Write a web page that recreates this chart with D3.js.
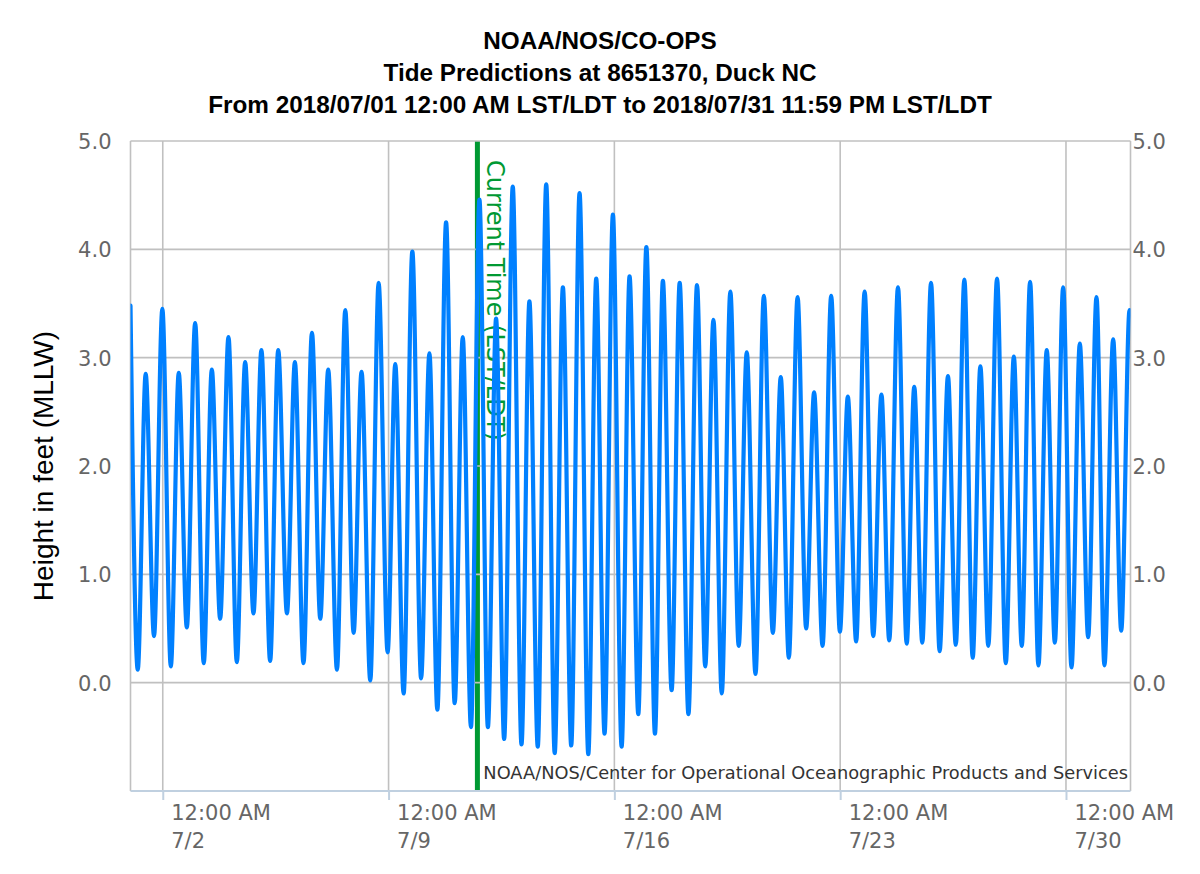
<!DOCTYPE html>
<html>
<head>
<meta charset="utf-8">
<script src="https://cdn.jsdelivr.net/npm/d3@7"></script>
<style>
  html, body { margin: 0; padding: 0; background: #fff; }
  svg { display: block; }
</style>
</head>
<body>
<svg id="chart" width="1200" height="874"></svg>
<script>
// ---- Data ----
const titleLines = [
  "NOAA/NOS/CO-OPS",
  "Tide Predictions at 8651370, Duck NC",
  "From 2018/07/01 12:00 AM LST/LDT to 2018/07/31 11:59 PM LST/LDT"
];
const yAxisTitle = "Height in feet (MLLW)";
const creditText = "NOAA/NOS/Center for Operational Oceanographic Products and Services";
const currentTimeLabel = "Current Time (LST/LDT)";
const currentTime = "2018-07-11T18:06:00Z";
const periodStart = "2018-07-01T00:00:00Z";
const periodEnd = "2018-08-01T00:00:00Z";

// x tick positions (midnight, weekly) and y ticks
const xTickDates = ["2018-07-02", "2018-07-09", "2018-07-16", "2018-07-23", "2018-07-30"];
const yTickValues = [0, 1, 2, 3, 4, 5];

// Hours since 2018/07/01 00:00 of the successive high / low waters
const hoursSinceStart = [
  0, 5.4, 11.3, 17.5, 23.7, 30.0, 35.9, 41.9, 48.1, 54.5, 60.5, 66.7, 72.9, 79.1, 85.3, 91.5,
  97.4, 103.9, 109.9, 116.4, 122.3, 128.7, 135.0, 141.2, 147.1, 153.6, 159.8, 166.0, 171.9, 178.4, 184.6,
  191.3, 197.0, 203.2, 209.7, 216.2, 222.4, 228.3, 234.8, 241.2, 247.2, 253.3, 259.6, 265.9, 272.0, 278.0,
  284.4, 290.9, 296.8, 303.0, 309.3, 315.6, 321.7, 327.9, 334.1, 340.6, 346.5, 352.7, 358.9, 365.4, 371.3,
  377.8, 383.8, 390.2, 396.1, 402.6, 408.6, 415.1, 421.5, 427.6, 433.7, 439.9, 446.3, 452.5, 458.5, 465.0,
  471.2, 477.9, 483.8, 489.8, 496.3, 502.7, 508.6, 514.9, 521.3, 527.8, 533.7, 539.9, 546.2, 552.6, 558.7,
  564.5, 571.0, 577.5, 583.1, 589.1, 595.6, 602.0, 608.2, 614.0, 620.4, 626.6, 632.3, 638.2, 644.7, 651.2,
  657.2, 663.1, 669.3, 675.5, 681.7, 687.7, 693.9, 700.1, 706.3, 712.5, 718.7, 724.6, 731.1, 737.1, 743.3,
  743.98
];
// Predicted heights (ft, MLLW) at those times
const heightsFt = [
  3.48, 0.12, 2.85, 0.43, 3.45, 0.15, 2.86, 0.51, 3.32, 0.18, 2.89, 0.59, 3.19, 0.19, 2.96, 0.64,
  3.07, 0.20, 3.07, 0.64, 2.96, 0.18, 3.23, 0.59, 2.89, 0.12, 3.44, 0.46, 2.87, 0.02, 3.69,
  0.28, 2.94, -0.10, 3.98, 0.04, 3.04, -0.25, 4.25, -0.19, 3.19, -0.41, 4.46, -0.41, 3.36, -0.52,
  4.58, -0.57, 3.52, -0.59, 4.60, -0.65, 3.65, -0.58, 4.52, -0.66, 3.73, -0.47, 4.32, -0.59, 3.75,
  -0.29, 4.02, -0.47, 3.71, -0.07, 3.69, -0.29, 3.67, 0.15, 3.35, -0.10, 3.61, 0.34, 3.05, 0.08,
  3.57, 0.46, 2.82, 0.23, 3.56, 0.50, 2.68, 0.34, 3.57, 0.47, 2.64, 0.38, 3.61, 0.43, 2.66,
  0.39, 3.65, 0.36, 2.73, 0.37, 3.69, 0.29, 2.83, 0.35, 3.72, 0.23, 2.92, 0.34, 3.73, 0.18,
  3.01, 0.34, 3.70, 0.16, 3.07, 0.37, 3.65, 0.14, 3.13, 0.42, 3.56, 0.16, 3.17, 0.48, 3.44,
  3.43
];

// ---- Layout ----
const plot = { left: 130.5, right: 1130.5, top: 141, bottom: 791 };
const COLORS = { series: "#0080ff", grid: "#c0c0c0", axis: "#c0d0e0", label: "#666666", current: "#009933", credit: "#333333" };
const tickFont = "'DejaVu Sans', Verdana, sans-serif";

const svg = d3.select("#chart");

const start = new Date(periodStart);
const x = d3.scaleUtc().domain([start, new Date(periodEnd)]).range([plot.left, plot.right]);
const y = d3.scaleLinear().domain([-1, 5]).range([plot.bottom, plot.top]);

const series = hoursSinceStart.map((h, i) => ({ t: new Date(start.getTime() + h * 3600e3), v: heightsFt[i] }));

// Title
const title = svg.append("g").attr("font-family", "'Liberation Sans', Arial, sans-serif")
  .attr("font-weight", "bold").attr("font-size", 24.3).attr("text-anchor", "middle").attr("fill", "#000");
[49, 81, 112.5].forEach((by, i) => {
  title.append("text").attr("x", 600).attr("y", by).text(titleLines[i]);
});

// Current-time plot line (drawn under grid)
const cx = x(new Date(currentTime));
svg.append("line").attr("x1", cx).attr("x2", cx).attr("y1", plot.top).attr("y2", plot.bottom)
  .attr("stroke", COLORS.current).attr("stroke-width", 5);

// Grid lines
const xTicks = xTickDates.map(d => new Date(d + "T00:00:00Z"));
const gridG = svg.append("g");
gridG.selectAll("line.h").data(yTickValues).join("line")
  .attr("x1", plot.left).attr("x2", plot.right)
  .attr("y1", d => y(d)).attr("y2", d => y(d))
  .attr("stroke", COLORS.grid).attr("stroke-width", 1.6);
gridG.selectAll("line.v").data(xTicks).join("line")
  .attr("x1", d => x(d)).attr("x2", d => x(d))
  .attr("y1", plot.top).attr("y2", plot.bottom)
  .attr("stroke", COLORS.grid).attr("stroke-width", 1.6);
// Left and right borders
[plot.left, plot.right].forEach(px => {
  gridG.append("line").attr("x1", px).attr("x2", px).attr("y1", plot.top).attr("y2", plot.bottom)
    .attr("stroke", COLORS.grid).attr("stroke-width", 1.6);
});

// Current-time label
svg.append("text")
  .attr("transform", `translate(${cx + 10},160) rotate(90)`)
  .attr("font-family", tickFont).attr("font-size", 24).attr("fill", COLORS.current)
  .text(currentTimeLabel);

// Series
svg.append("clipPath").attr("id", "clip").append("rect")
  .attr("x", plot.left).attr("y", plot.top - 10).attr("width", plot.right - plot.left).attr("height", plot.bottom - plot.top + 10);
const line = d3.line().x(d => x(d.t)).y(d => y(d.v)).curve(d3.curveMonotoneX);
svg.append("path").datum(series).attr("d", line).attr("clip-path", "url(#clip)")
  .attr("fill", "none").attr("stroke", COLORS.series).attr("stroke-width", 4.2)
  .attr("stroke-linejoin", "round").attr("stroke-linecap", "round");

// Bottom x axis
const xAxis = d3.axisBottom(x).tickValues(xTicks).tickSize(9).tickFormat("");
const xg = svg.append("g").attr("transform", `translate(0,${plot.bottom})`).call(xAxis);
xg.select(".domain").attr("stroke", COLORS.axis).attr("stroke-width", 2).attr("d", `M${plot.left},0H${plot.right}`);
xg.selectAll(".tick line").attr("stroke", COLORS.axis).attr("stroke-width", 2);
const fmtTime = d3.utcFormat("%-I:%M %p"), fmtDay = d3.utcFormat("%-m/%-d");
xg.selectAll(".tick").each(function(d) {
  const t = d3.select(this).append("text").attr("fill", COLORS.label)
    .attr("font-family", tickFont).attr("font-size", 21).attr("text-anchor", "start");
  t.append("tspan").attr("x", 8).attr("y", 29).text(fmtTime(d));
  t.append("tspan").attr("x", 8).attr("y", 57).text(fmtDay(d));
});

// Y axes (left and right labels)
const fmtY = d3.format(".1f");
const yl = svg.append("g").attr("transform", `translate(${plot.left},0)`)
  .call(d3.axisLeft(y).tickValues(yTickValues).tickSize(0).tickPadding(19).tickFormat(fmtY));
const yr = svg.append("g").attr("transform", `translate(${plot.right},0)`)
  .call(d3.axisRight(y).tickValues(yTickValues).tickSize(0).tickPadding(2).tickFormat(fmtY));
[yl, yr].forEach(g => {
  g.select(".domain").remove();
  g.selectAll("text").attr("font-family", tickFont).attr("font-size", 21).attr("fill", COLORS.label).attr("dy", "0.36em");
});

// Y axis title
svg.append("text")
  .attr("transform", `translate(53,${(plot.top + plot.bottom) / 2}) rotate(-90)`)
  .attr("text-anchor", "middle").attr("font-family", "'Liberation Sans', Arial, sans-serif")
  .attr("font-size", 28).attr("fill", "#000").text(yAxisTitle);

// Credits
svg.append("text").attr("x", 1128).attr("y", 779).attr("text-anchor", "end")
  .attr("font-family", tickFont).attr("font-size", 17.8).attr("fill", COLORS.credit).text(creditText);
</script>
</body>
</html>
